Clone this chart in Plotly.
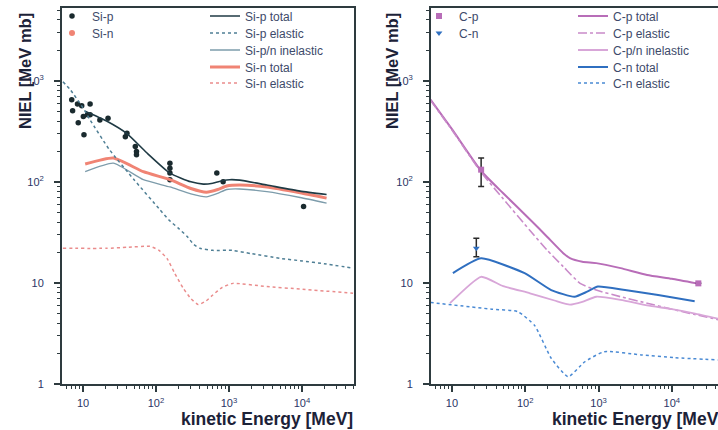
import plotly.graph_objects as go

W, H = 718, 430

# ---------------- data ----------------
# Left panel: Si
si_p_data_E = [7.0, 7.2, 8.4, 9.6, 8.6, 10.3, 10.1, 11.5, 12.5, 12.5, 17, 22, 38, 40, 52, 54, 54,
               155, 155, 155, 155, 680, 830, 10500]
si_p_data_v = [648, 505, 590, 565, 385, 293, 443, 460, 590, 460, 410, 425, 280, 303, 224, 200, 185,
               153, 136, 122, 105, 122, 100, 57]

si_p_total_E = [10.7, 21, 40, 74, 155, 300, 445, 600, 830, 1020, 1400, 3300, 9400, 21700]
si_p_total_v = [500, 400, 300, 195, 122, 100, 95, 97, 103, 105, 104, 93, 81, 75]

si_p_elastic_E = [5.3, 6.7, 10, 12.5, 23, 50, 113, 150, 200, 265, 330, 400, 600, 1100, 2000, 5000,
                  10000, 20000, 50000]
si_p_elastic_v = [980, 815, 540, 410, 208, 105, 53, 42, 35, 29, 24, 22, 21, 21, 19.5, 17.5,
                  16.5, 15.5, 14]

si_inel_E = [10.7, 26, 67, 155, 300, 490, 700, 930, 1400, 3300, 9400, 21700]
si_inel_v = [126, 153, 105, 89, 76, 71, 77, 84, 85, 80, 70, 61.7]

si_n_total_E = [10.7, 26, 67, 155, 300, 490, 700, 930, 1400, 3300, 9400, 21700]
si_n_total_v = [150, 172, 126, 105, 86, 79, 84, 91, 93, 89, 78, 69]

si_n_elastic_E = [5.3, 21, 40, 83, 110, 141, 180, 235, 300, 380, 480, 600, 800, 1130, 3300, 9400, 50000]
si_n_elastic_v = [22, 22, 22.5, 23, 21, 17.5, 12.5, 8.9, 7, 6.1, 6.6, 7.6, 9, 9.9, 9.2, 8.7, 7.9]

# Right panel: C
c_p_data_E = [25, 23000]
c_p_data_v = [132, 9.9]
c_p_err_plus = [40, 0]
c_p_err_minus = [42, 0]

c_n_data_E = [21.5]
c_n_data_v = [22]
c_n_err_plus = [5.6]
c_n_err_minus = [3.8]

c_p_total_E = [5.1, 10, 25, 50, 116, 200, 330, 407, 600, 930, 2000, 4600, 10000, 21800]
c_p_total_v = [650, 332, 128, 77, 42.5, 28.5, 19.7, 17.6, 16.2, 15.7, 14, 12, 11, 9.9]

c_p_elastic_E = [5.1, 10, 25, 50, 116, 200, 330, 560, 930, 2000, 4600, 10000, 20000, 45000]
c_p_elastic_v = [640, 326, 124, 68, 33, 21, 14.5, 9.9, 8.5, 7.3, 6.3, 5.5, 4.9, 4.3]

c_inel_E = [9.4, 25, 50, 116, 250, 407, 600, 930, 2000, 4600, 10000, 20000, 45000]
c_inel_v = [6.3, 11.5, 9.3, 7.9, 6.7, 6.1, 6.5, 7.3, 6.8, 6.0, 5.5, 5.0, 4.4]

c_n_total_E = [10.3, 25, 98, 226, 470, 700, 980, 2300, 6500, 20500]
c_n_total_v = [12.5, 17.5, 12.5, 8.5, 7.3, 8.2, 9.2, 8.5, 7.6, 6.6]

c_n_elastic_E = [5.1, 35, 79, 134, 226, 385, 650, 1200, 3800, 11000, 43000]
c_n_elastic_v = [6.4, 5.5, 5.2, 3.8, 1.8, 1.18, 1.66, 2.09, 1.94, 1.82, 1.73]

y_tickvals = [1, 10, 100, 1000]
y_ticktext = ["1", "10", "10<sup>2</sup>", "10<sup>3</sup>"]
x_tickvals = [10, 100, 1000, 10000]
x_ticktext = ["10", "10<sup>2</sup>", "10<sup>3</sup>", "10<sup>4</sup>"]

y_title = "NIEL [MeV mb]"
x_title = "kinetic Energy [MeV]"

# ---------------- styling ----------------
FONT = "Liberation Sans, Arial, sans-serif"
AX = "#2e3b3f"
TICKFONT = "#2b3566"
LEGFONT = "#3d4a6a"

SI_DARK = "#1f3a44"
SI_EL = "#4f7f95"
SI_INEL = "#7d9cab"
SI_RED = "#f08474"
SI_RED_EL = "#ea8c8c"
CP = "#b86db8"
CP_EL = "#c98ac9"
CP_IN = "#d8a6d8"
CN = "#2f6fc0"
CN_EL = "#4a8ad4"


def fx(px):
    return px / W


def fy(py):
    return 1 - py / H


fig = go.Figure()
legend_layout = {}
leg_counter = [0]

leg_common = dict(bgcolor="rgba(0,0,0,0)", borderwidth=0,
                  font=dict(family=FONT, size=12, color=LEGFONT),
                  xref="paper", yref="paper", xanchor="left", yanchor="middle",
                  tracegroupgap=0, itemwidth=30)


def new_legend(px_x, px_y):
    leg_counter[0] += 1
    n = leg_counter[0]
    key = "legend" if n == 1 else f"legend{n}"
    legend_layout[key] = dict(x=fx(px_x), y=fy(px_y), **leg_common)
    return key


def add_line(E, v, name, color, width, dash, axis, lx, ly):
    fig.add_trace(go.Scatter(x=E, y=v, mode="lines", name=name,
                             line=dict(color=color, width=width, dash=dash, shape="spline", smoothing=0.5),
                             xaxis="x" if axis == 1 else "x2", yaxis="y" if axis == 1 else "y2",
                             legend=new_legend(lx, ly)))


ROWS = [16, 33, 50, 67, 83]

# ---- left panel ----
fig.add_trace(go.Scatter(x=si_p_data_E, y=si_p_data_v, mode="markers", name="Si-p",
                         marker=dict(symbol="circle", size=5.5, color="#1a2a2e"),
                         xaxis="x", yaxis="y", legend=new_legend(52, ROWS[0])))
fig.add_trace(go.Scatter(x=[None], y=[None], mode="markers", name="Si-n",
                         marker=dict(symbol="circle", size=6, color=SI_RED),
                         xaxis="x", yaxis="y", legend=new_legend(52, ROWS[1])))
add_line(si_n_total_E, si_n_total_v, "Si-n total", SI_RED, 3, "solid", 1, 205, ROWS[3])
add_line(si_inel_E, si_inel_v, "Si-p/n inelastic", SI_INEL, 1.3, "solid", 1, 205, ROWS[2])
add_line(si_p_total_E, si_p_total_v, "Si-p total", SI_DARK, 1.6, "solid", 1, 205, ROWS[0])
add_line(si_p_elastic_E, si_p_elastic_v, "Si-p elastic", SI_EL, 1.5, "dot", 1, 205, ROWS[1])
add_line(si_n_elastic_E, si_n_elastic_v, "Si-n elastic", SI_RED_EL, 1.5, "dot", 1, 205, ROWS[4])

# ---- right panel ----
add_line(c_p_total_E, c_p_total_v, "C-p total", CP, 2, "solid", 2, 573, ROWS[0])
add_line(c_p_elastic_E, c_p_elastic_v, "C-p elastic", CP_EL, 1.6, "dashdot", 2, 573, ROWS[1])
add_line(c_inel_E, c_inel_v, "C-p/n inelastic", CP_IN, 1.8, "solid", 2, 573, ROWS[2])
add_line(c_n_total_E, c_n_total_v, "C-n total", CN, 2, "solid", 2, 573, ROWS[3])
add_line(c_n_elastic_E, c_n_elastic_v, "C-n elastic", CN_EL, 1.5, "dot", 2, 573, ROWS[4])
fig.add_trace(go.Scatter(x=c_p_data_E, y=c_p_data_v, mode="markers", name="C-p",
                         marker=dict(symbol="square", size=6, color=CP),
                         error_y=dict(type="data", array=c_p_err_plus, arrayminus=c_p_err_minus,
                                      color="#2a2a2a", thickness=1.5, width=3),
                         xaxis="x2", yaxis="y2", legend=new_legend(419, ROWS[0])))
fig.add_trace(go.Scatter(x=c_n_data_E, y=c_n_data_v, mode="markers", name="C-n",
                         marker=dict(symbol="triangle-down", size=6, color=CN),
                         error_y=dict(type="data", array=c_n_err_plus, arrayminus=c_n_err_minus,
                                      color="#2a2a2a", thickness=1.5, width=3),
                         xaxis="x2", yaxis="y2", legend=new_legend(419, ROWS[1])))

common_axis = dict(
    type="log", showgrid=False, zeroline=False, showline=True, linewidth=2, linecolor=AX,
    ticks="outside", ticklen=6, tickwidth=1.5, tickcolor=AX, automargin=False,
    tickfont=dict(family=FONT, size=11, color=TICKFONT),
    minor=dict(ticks="outside", ticklen=3, tickwidth=1, tickcolor=AX, dtick="D1", showgrid=False),
)

fig.update_layout(
    width=W, height=H,
    margin=dict(l=0, r=0, t=0, b=0, autoexpand=False),
    paper_bgcolor="white", plot_bgcolor="white",
    font=dict(family=FONT),
    hovermode=False,
    xaxis=dict(domain=[fx(62), fx(354)], range=[0.712, 4.712], anchor="y", mirror=True,
               tickvals=x_tickvals, ticktext=x_ticktext, ticklabelstandoff=2, **common_axis),
    yaxis=dict(domain=[fy(384), fy(8)], range=[0, 3.72], anchor="x", mirror=True,
               tickvals=y_tickvals, ticktext=y_ticktext, ticklabelstandoff=8, **common_axis),
    xaxis2=dict(domain=[fx(431), 1.0], range=[0.714, 4.63], anchor="y2", mirror=True,
                tickvals=x_tickvals, ticktext=x_ticktext, ticklabelstandoff=2, **common_axis),
    yaxis2=dict(domain=[fy(384), fy(8)], range=[0, 3.72], anchor="x2", mirror=False,
                tickvals=y_tickvals, ticktext=y_ticktext, ticklabelstandoff=8, **common_axis),
    showlegend=True,
    **legend_layout,
)

ann_font_y = dict(family=FONT, size=16.5, color="#1c2238", weight="bold")
ann_font_x = dict(family=FONT, size=17.5, color="#1c2238", weight="bold")
fig.add_annotation(text=y_title, xref="paper", yref="paper", x=fx(25), y=fy(71),
                   textangle=-90, showarrow=False, font=ann_font_y, xanchor="center", yanchor="middle")
fig.add_annotation(text=y_title, xref="paper", yref="paper", x=fx(392), y=fy(71),
                   textangle=-90, showarrow=False, font=ann_font_y, xanchor="center", yanchor="middle")
fig.add_annotation(text=x_title, xref="paper", yref="paper", x=fx(355), y=fy(419),
                   showarrow=False, font=ann_font_x, xanchor="right", yanchor="middle")
fig.add_annotation(text=x_title, xref="paper", yref="paper", x=fx(726), y=fy(419),
                   showarrow=False, font=ann_font_x, xanchor="right", yanchor="middle")

fig.write_html("out.html", config={"displayModeBar": False},
               post_script="document.body.style.margin='0';document.body.style.overflow='hidden';")
